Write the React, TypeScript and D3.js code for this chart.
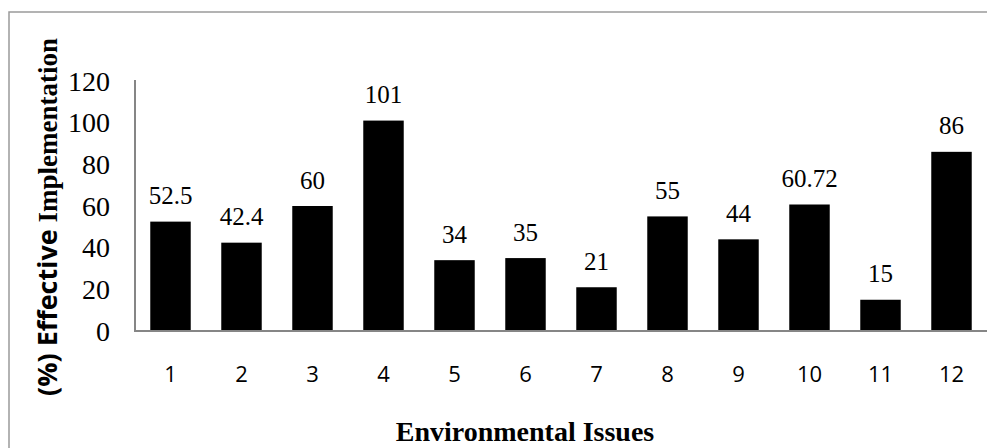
import React from "react";
import * as d3 from "d3";

const issues = ["1", "2", "3", "4", "5", "6", "7", "8", "9", "10", "11", "12"];
const implementation = [52.5, 42.4, 60, 101, 34, 35, 21, 55, 44, 60.72, 15, 86];
const valueLabels = ["52.5", "42.4", "60", "101", "34", "35", "21", "55", "44", "60.72", "15", "86"];
const yTicks = [0, 20, 40, 60, 80, 100, 120];

const W = 987;
const H = 448;
const left = 135;
const right = 987;
const top = 81;
const bottom = 331;

export default function App() {
  const x = d3.scaleBand<string>().domain(issues).range([left, right]).paddingInner(0.43).paddingOuter(0.215);
  const y = d3.scaleLinear().domain([0, 120]).range([bottom, top]);
  const serif = "'Liberation Serif', 'Times New Roman', serif";
  const sans = "'Open Sans', 'Liberation Sans', sans-serif";

  return (
    <svg width={W} height={H} style={{ position: "absolute", left: 0, top: 0, background: "#fff" }}>
      <rect x={9} y={12} width={W + 20} height={H + 20} fill="#fff" stroke="#9a9a9a" strokeWidth={1.5} />
      {implementation.map((v, i) => (
        <g key={issues[i]}>
          <rect
            x={x(issues[i])!}
            y={y(v)}
            width={x.bandwidth()}
            height={bottom - y(v)}
            fill="#000"
          />
          <text
            x={x(issues[i])! + x.bandwidth() / 2}
            y={y(v) - 17.5}
            textAnchor="middle"
            fontFamily={serif}
            fontSize={25}
            fill="#000"
          >
            {valueLabels[i]}
          </text>
          <text
            x={x(issues[i])! + x.bandwidth() / 2}
            y={382}
            textAnchor="middle"
            fontFamily={sans}
            fontSize={22}
            fill="#000"
          >
            {issues[i]}
          </text>
        </g>
      ))}
      <line x1={left} x2={left} y1={top - 1} y2={bottom} stroke="#868686" strokeWidth={2} />
      <line x1={left - 1} x2={right} y1={bottom} y2={bottom} stroke="#868686" strokeWidth={2} />
      {yTicks.map((t) => (
        <text
          key={t}
          x={110}
          y={y(t) + 9.5}
          textAnchor="end"
          fontFamily={serif}
          fontSize={28}
          fill="#000"
        >
          {t}
        </text>
      ))}
      <text
        transform={`translate(57, 217) rotate(-90)`}
        textAnchor="middle"
        fontWeight="bold"
        fontSize={27}
        fill="#000"
      >
        <tspan fontFamily={sans}>(%) Effective</tspan>
        <tspan fontFamily={serif}> Implementation</tspan>
      </text>
      <text
        x={525}
        y={441}
        textAnchor="middle"
        fontFamily={serif}
        fontWeight="bold"
        fontSize={28}
        fill="#000"
      >
        Environmental Issues
      </text>
    </svg>
  );
}
